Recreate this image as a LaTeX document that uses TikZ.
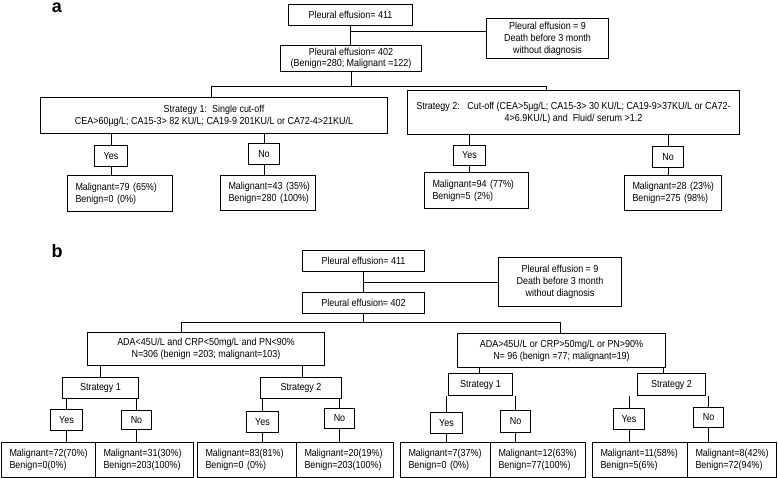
\documentclass[tikz,border=0pt]{standalone}
\usepackage{fontspec}
\setmainfont{Liberation Sans}[FakeStretch=0.88]
\newfontfamily\labfont{Liberation Sans}
\newcommand\myfs{\fontsize{10.2}{12}\selectfont}
\newcommand\rl[2]{\mbox{#1}\\\mbox{#2}}
\begin{document}
\begin{tikzpicture}[x=1pt,y=-1pt,
  bx/.style={draw, line width=1pt, inner sep=0pt, anchor=north west, font=\myfs, align=center},
  rs/.style={bx, align=left, inner xsep=8pt},
  ln/.style={line width=1pt},
  lab/.style={font=\labfont\bfseries\fontsize{18}{18}\selectfont, anchor=base, inner sep=0pt}]
\useasboundingbox (0,0) rectangle (778,478);
% ---------------- panel a ----------------
\node[lab] (la) at (57,13) {a};
\node[bx, minimum width=124pt, minimum height=21pt] (p411a) at (288,4) {Pleural effusion= 411};
\node[bx, minimum width=122pt, minimum height=40pt] (da) at (486,18) {Pleural effusion = 9\\Death before 3 month\\without diagnosis};
\node[bx, minimum width=141pt, minimum height=26pt, font=\fontsize{10.2}{10.5}\selectfont] (p402a) at (280,45) {Pleural effusion= 402\\(Benign=280; Malignant =122)};
\node[bx, minimum width=347pt, minimum height=36pt] (s1a) at (40,97) {Strategy 1:\ \ Single cut-off\\CEA>60µg/L; CA15-3> 82 KU/L; CA19-9 201KU/L or CA72-4>21KU/L};
\node[bx, minimum width=332pt, minimum height=44pt] (s2a) at (407,90) {Strategy 2:\ \ \ Cut-off (CEA>5µg/L; CA15-3> 30 KU/L; CA19-9>37KU/L or CA72-\\4>6.9KU/L) and\ \ Fluid/ serum >1.2};
\node[bx, minimum width=33pt, minimum height=21pt] (ya1) at (94,145) {Yes};
\node[bx, minimum width=31pt, minimum height=21pt] (na1) at (248,143) {No};
\node[bx, minimum width=32pt, minimum height=20pt] (ya2) at (453,145) {Yes};
\node[bx, minimum width=31pt, minimum height=21pt] (na2) at (652,146) {No};
\node[rs, text width=89pt, minimum height=36pt] (ra1y) at (67,175) {\rl{Malignant=79 (65\%)}{Benign=0 (0\%)}};
\node[rs, text width=79pt, minimum height=35pt] (ra1n) at (220,175) {\rl{Malignant=43 (35\%)}{Benign=280 (100\%)}};
\node[rs, text width=88pt, minimum height=36pt] (ra2y) at (424,172) {\rl{Malignant=94 (77\%)}{Benign=5 (2\%)}};
\node[rs, text width=81pt, minimum height=35pt] (ra2n) at (624,175) {\rl{Malignant=28 (23\%)}{Benign=275 (98\%)}};
% connectors a
\draw[ln] (p411a.south) -- (p411a.south |- p402a.north);
\coordinate (ka) at (351,32);
\draw[ln] (ka) -- (ka -| da.west);
\coordinate (ta1) at (211,87);
\coordinate (ta2) at (546,87);
\draw[ln] (p402a.south) -- (p402a.south |- ta1);
\draw[ln] (s1a.north -| ta1) -- (ta1) -- (ta2) -- (s2a.north -| ta2);
\draw[ln] (ya1.north) -- (ya1.north |- s1a.south);
\draw[ln] (ya1.south) -- (ya1.south |- ra1y.north);
\draw[ln] (na1.north) -- (na1.north |- s1a.south);
\draw[ln] (na1.south) -- (na1.south |- ra1n.north);
\draw[ln] (ya2.north) -- (ya2.north |- s2a.south);
\draw[ln] (ya2.south) -- (ya2.south |- ra2y.north);
\draw[ln] (na2.north) -- (na2.north |- s2a.south);
\draw[ln] (na2.south) -- (na2.south |- ra2n.north);
% ---------------- panel b ----------------
\node[lab] (lb) at (57,257) {b};
\node[bx, minimum width=122pt, minimum height=21pt] (p411b) at (302,250) {Pleural effusion= 411};
\node[bx, minimum width=123pt, minimum height=49pt] (db) at (498,257) {Pleural effusion = 9\\Death before 3 month\\without diagnosis};
\node[bx, minimum width=122pt, minimum height=21pt] (p402b) at (302,292) {Pleural effusion= 402};
\node[bx, minimum width=237pt, minimum height=33pt] (adaL) at (87,332) {ADA<45U/L and CRP<50mg/L\textsuperscript{-}and PN<90\%\\N=306 (benign =203; malignant=103)};
\node[bx, minimum width=208pt, minimum height=34pt] (adaR) at (457,333) {ADA>45U/L or CRP>50mg/L or PN>90\%\\N= 96 (benign =77; malignant=19)};
\node[bx, minimum width=76pt, minimum height=21pt] (sL1) at (62,377) {Strategy 1};
\node[bx, minimum width=81pt, minimum height=21pt] (sL2) at (260,377) {Strategy 2};
\node[bx, minimum width=64pt, minimum height=22pt] (sR1) at (448,373) {Strategy 1};
\node[bx, minimum width=68pt, minimum height=22pt] (sR2) at (637,373) {Strategy 2};
\node[bx, minimum width=32pt, minimum height=21pt] (yL1) at (50,409) {Yes};
\node[bx, minimum width=30pt, minimum height=19pt] (nL1) at (121,410) {No};
\node[bx, minimum width=32pt, minimum height=21pt] (yL2) at (246,411) {Yes};
\node[bx, minimum width=30pt, minimum height=20pt] (nL2) at (324,408) {No};
\node[bx, minimum width=32pt, minimum height=21pt] (yR1) at (430,412) {Yes};
\node[bx, minimum width=30pt, minimum height=22pt] (nR1) at (500,410) {No};
\node[bx, minimum width=31pt, minimum height=21pt] (yR2) at (613,408) {Yes};
\node[bx, minimum width=30pt, minimum height=20pt] (nR2) at (693,407) {No};
\node[rs, text width=78pt, minimum height=35pt] (rL1y) at (1,442) {\rl{Malignant=72(70\%)}{Benign=0(0\%)}};
\node[rs, text width=82pt, minimum height=35pt] (rL1n) at (95,442) {\rl{Malignant=31(30\%)}{Benign=203(100\%)}};
\node[rs, text width=83pt, minimum height=35pt] (rL2y) at (197,442) {\rl{Malignant=83(81\%)}{Benign=0 (0\%)}};
\node[rs, text width=81pt, minimum height=35pt] (rL2n) at (296,442) {\rl{Malignant=20(19\%)}{Benign=203(100\%)}};
\node[rs, text width=74pt, minimum height=35pt] (rR1y) at (400,442) {\rl{Malignant=7(37\%)}{Benign=0 (0\%)}};
\node[rs, text width=79pt, minimum height=35pt] (rR1n) at (490,442) {\rl{Malignant=12(63\%)}{Benign=77(100\%)}};
\node[rs, text width=79pt, minimum height=35pt] (rR2y) at (592,442) {\rl{Malignant=11(58\%)}{Benign=5(6\%)}};
\node[rs, text width=73pt, minimum height=35pt] (rR2n) at (687,442) {\rl{Malignant=8(42\%)}{Benign=72(94\%)}};
% connectors b
\draw[ln] (p411b.south) -- (p411b.south |- p402b.north);
\coordinate (kb) at (363,282);
\draw[ln] (kb) -- (kb -| db.west);
\coordinate (tb1) at (181,322);
\coordinate (tb2) at (560,322);
\draw[ln] (p402b.south) -- (p402b.south |- tb1);
\draw[ln] (adaL.north -| tb1) -- (tb1) -- (tb2) -- (adaR.north -| tb2);
\coordinate (uL1) at (100,0);
\coordinate (uL2) at (302,0);
\coordinate (uR1) at (479,0);
\coordinate (uR2) at (663,0);
\draw[ln] (adaL.south -| uL1) -- (sL1.north -| uL1);
\draw[ln] (adaL.south -| uL2) -- (sL2.north -| uL2);
\draw[ln] (adaR.south -| uR1) -- (sR1.north -| uR1);
\draw[ln] (adaR.south -| uR2) -- (sR2.north -| uR2);
\draw[ln] (yL1.north) -- (yL1.north |- sL1.south);
\draw[ln] (yL1.south) -- (yL1.south |- rL1y.north);
\draw[ln] (nL1.north) -- (nL1.north |- sL1.south);
\draw[ln] (nL1.south) -- (nL1.south |- rL1n.north);
\draw[ln] (yL2.north) -- (yL2.north |- sL2.south);
\draw[ln] (yL2.south) -- (yL2.south |- rL2y.north);
\draw[ln] (nL2.north) -- (nL2.north |- sL2.south);
\draw[ln] (nL2.south) -- (nL2.south |- rL2n.north);
\draw[ln] (yR1.north) -- (yR1.north |- sR1.south);
\draw[ln] (yR1.south) -- (yR1.south |- rR1y.north);
\draw[ln] (nR1.north) -- (nR1.north |- sR1.south);
\draw[ln] (nR1.south) -- (nR1.south |- rR1n.north);
\draw[ln] (yR2.north) -- (yR2.north |- sR2.south);
\draw[ln] (yR2.south) -- (yR2.south |- rR2y.north);
\draw[ln] (nR2.north) -- (nR2.north |- sR2.south);
\draw[ln] (nR2.south) -- (nR2.south |- rR2n.north);
\end{tikzpicture}
\end{document}
